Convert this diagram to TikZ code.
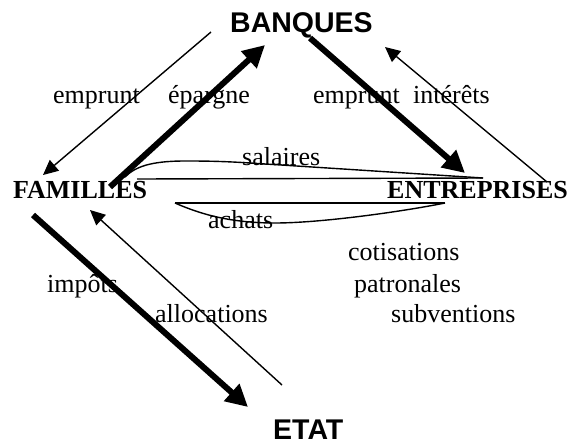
\documentclass[tikz,border=0pt]{standalone}
\usepackage{fontspec}
\setmainfont{Liberation Serif}
\newfontfamily\headfont{Liberation Sans}
\usetikzlibrary{arrows.meta}
\begin{document}
\begin{tikzpicture}[x=1pt,y=-1pt,
  lbl/.style={anchor=base west,inner sep=0pt,font=\fontsize{26}{30}\selectfont},
  actor/.style={anchor=base west,inner sep=0pt,font=\fontsize{26}{30}\selectfont\bfseries},
  pole/.style={anchor=base west,inner sep=0pt,font=\headfont\fontsize{28.5}{32}\selectfont\bfseries},
  thin/.style={line width=1.4pt,-{Triangle[length=15pt,width=14pt]}},
  thick/.style={line width=6pt,-{Triangle[length=22pt,width=22pt]}},
  flow/.style={line width=1.4pt}]
\useasboundingbox (0,0) rectangle (570,445);

% the four economic actors
\node[pole]  (banques)     at (230,32)  {BANQUES};
\node[actor] (familles)    at (13,198)  {FAMILLES};
\node[actor] (entreprises) at (387,198) {ENTREPRISES};
\node[pole]  (etat)        at (273,439) {ETAT};

% flow labels
\node[lbl] (l1)  at (53,103)  {emprunt};
\node[lbl] (l2)  at (168,103) {épargne};
\node[lbl] (l3)  at (313,103) {emprunt};
\node[lbl] (l4)  at (413,103) {intérêts};
\node[lbl] (l5)  at (242,165) {salaires};
\node[lbl] (l6)  at (208,228) {achats};
\node[lbl] (l7)  at (348,260) {cotisations};
\node[lbl] (l8)  at (354,292) {patronales};
\node[lbl] (l9)  at (47,292)  {impôts};
\node[lbl] (l10) at (155,322) {allocations};
\node[lbl] (l11) at (391,322) {subventions};

% arrow end points
\coordinate (bf0) at (211,32);  \coordinate (bf1) at (43,175);
\coordinate (fb0) at (110,187); \coordinate (fb1) at (265,45);
\coordinate (be0) at (310,38);  \coordinate (be1) at (465,173);
\coordinate (eb0) at (547,182); \coordinate (eb1) at (385,47);
\coordinate (fs0) at (33,215);  \coordinate (fs1) at (248,407);
\coordinate (sf0) at (282,385); \coordinate (sf1) at (90,210);

\draw[thin]  (bf0) -- (bf1);
\draw[thick] (fb0) -- (fb1);
\draw[thick] (be0) -- (be1);
\draw[thin]  (eb0) -- (eb1);
\draw[thick] (fs0) -- (fs1);
\draw[thin]  (sf0) -- (sf1);

% wages and purchases between households and firms
\coordinate (sa) at (125,177); \coordinate (sb) at (137,179);
\coordinate (se) at (483,178);
\draw[flow] (se) -- (250,163) .. controls (220,161) and (200,161) .. (185,161)
  .. controls (150,161) and (135,167) .. (sa);
\draw[flow] (sb) -- (se);

\coordinate (aa) at (175,203); \coordinate (ae) at (445,203);
\draw[flow] (aa) -- (ae);
\draw[flow] (aa) .. controls (200,214) and (230,223) .. (275,223)
  .. controls (320,223) and (400,212) .. (ae);
\end{tikzpicture}
\end{document}
